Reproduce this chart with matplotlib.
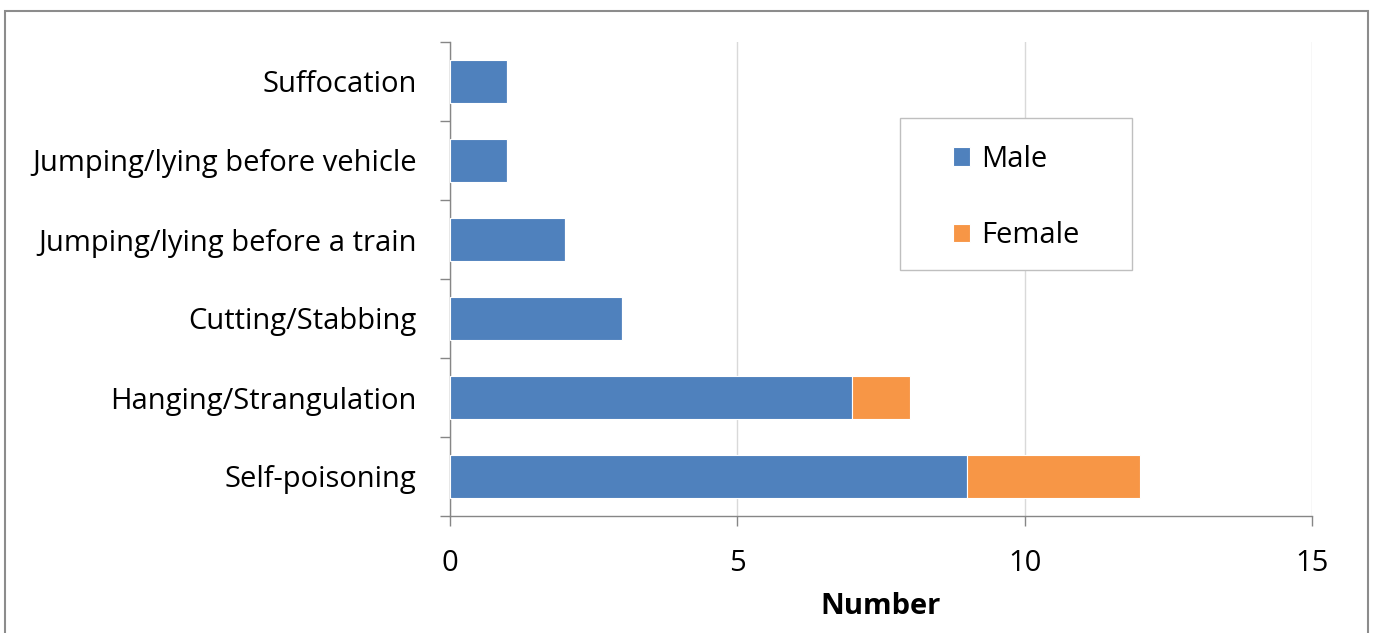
import matplotlib
matplotlib.use("Agg")
import matplotlib.pyplot as plt
from matplotlib.patches import Rectangle
import numpy as np

plt.rcParams['font.family'] = ['Open Sans', 'DejaVu Sans']

methods = ["Self-poisoning", "Hanging/Strangulation", "Cutting/Stabbing",
           "Jumping/lying before a train", "Jumping/lying before vehicle",
           "Suffocation"]
male = [9, 7, 3, 2, 1, 1]
female = [3, 1, 0, 0, 0, 0]
x_ticks = [0, 5, 10, 15]

blue = "#4F81BD"
orange = "#F79646"
axis_grey = "#868686"
grid_grey = "#D9D9D9"
fs = 21

W, H = 1373, 633
fig = plt.figure(figsize=(W / 100, H / 100), dpi=100)
L, R, T, B = 450, 1312, 42, 516
ax = fig.add_axes([L / W, 1 - B / H, (R - L) / W, (B - T) / H])

y = np.arange(len(methods))
ax.barh(y, male, height=0.54, color=blue, edgecolor="white", linewidth=0.8,
        label="Male", zorder=3)
ax.barh(y, female, left=male, height=0.54, color=orange, edgecolor="white",
        linewidth=0.8, label="Female", zorder=3)

ax.set_xlim(0, 15)
ax.set_ylim(-0.5, len(methods) - 0.5)
ax.set_xticks(x_ticks)
ax.set_xticklabels([str(t) for t in x_ticks], fontsize=fs)
ax.set_yticks(y)
ax.set_yticklabels(methods, fontsize=fs)
ax.set_yticks(np.arange(-0.5, len(methods), 1), minor=True)
ax.tick_params(axis="y", which="major", length=0, pad=24)
ax.tick_params(axis="y", which="minor", length=7, color=axis_grey, width=1)
ax.tick_params(axis="x", length=7, color=axis_grey, width=1, pad=17)

ax.grid(axis="x", color=grid_grey, linewidth=1, zorder=0)
for side in ("top", "right"):
    ax.spines[side].set_visible(False)
for side in ("left", "bottom"):
    ax.spines[side].set_color(axis_grey)
    ax.spines[side].set_linewidth(1)

ax.set_xlabel("Number", fontsize=fs, fontweight="bold", labelpad=10)

# legend box
def to_axes(px, py):
    return (px - L) / (R - L), 1 - (py - T) / (B - T)

bx0, by1 = to_axes(900, 270)
bx1, by0 = to_axes(1132, 118)
ax.add_patch(Rectangle((bx0, by1), bx1 - bx0, by0 - by1, transform=ax.transAxes,
                       facecolor="white", edgecolor="#BFBFBF", linewidth=1,
                       zorder=4))
leg = ax.legend(loc="upper left", bbox_to_anchor=to_axes(953, 145),
                fontsize=fs, frameon=False,
                handlelength=0.6, handleheight=0.6, handletextpad=0.35,
                labelspacing=1.62, borderpad=0, borderaxespad=0)
leg.set_zorder(5)

# outer chart frame
fig.patches.append(Rectangle((5 / W, -0.02), (1368 - 5) / W, 1 - 11 / H + 0.02,
                             transform=fig.transFigure, fill=False,
                             edgecolor="#8C8C8C", linewidth=1.5))

fig.savefig("out.png", dpi=100, facecolor="white")
